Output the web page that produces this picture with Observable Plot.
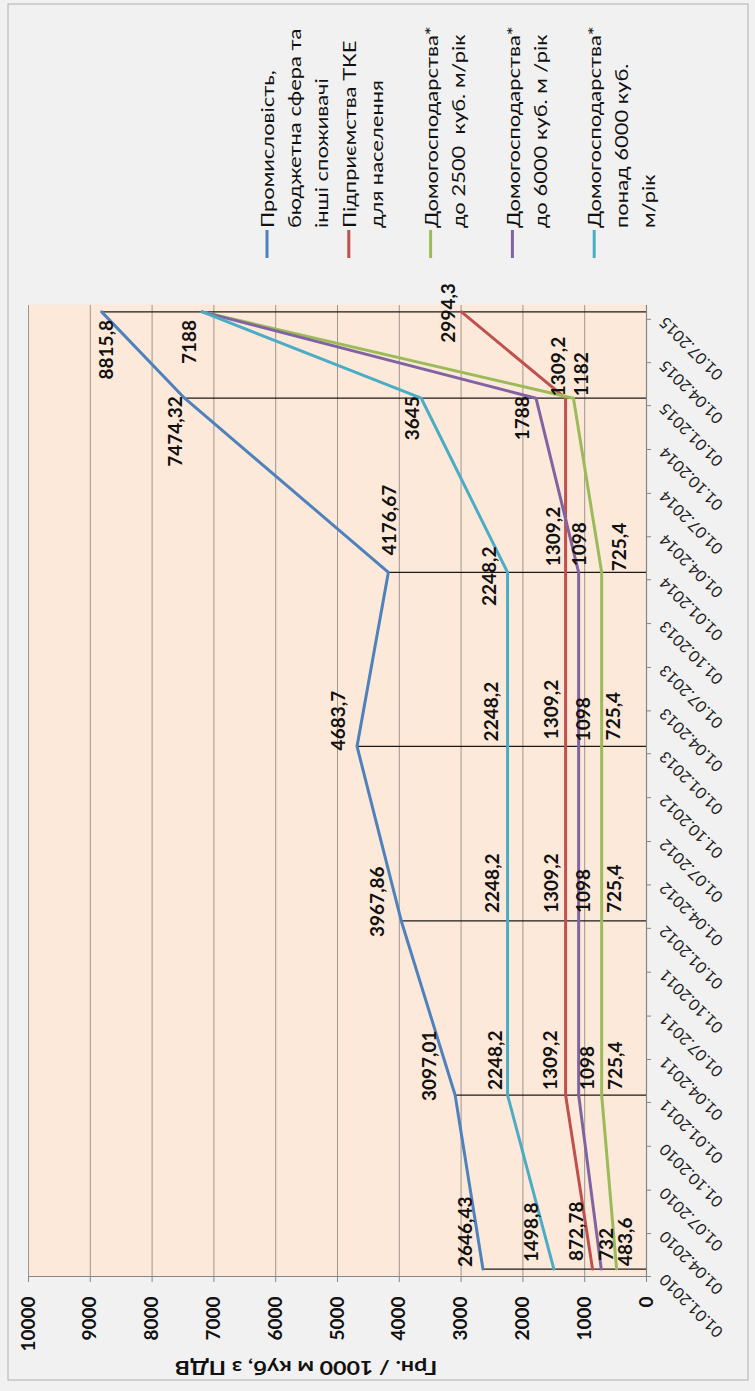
<!DOCTYPE html>
<html>
<head>
<meta charset="utf-8">
<script src="https://cdn.jsdelivr.net/npm/d3@7"></script>
<script src="https://cdn.jsdelivr.net/npm/@observablehq/plot@0.6"></script>
<style>
  html, body { margin: 0; padding: 0; background: #f1f1f1; overflow: hidden; }
  #wrap { position: absolute; left: 0; top: 0; width: 1391px; height: 755px;
          transform-origin: 0 0; transform: translateY(1391px) rotate(-90deg); }
</style>
</head>
<body>
<div id="wrap"></div>
<script>
// ---------- DATA ----------
const pointDates = ["2010-01-01", "2011-01-01", "2012-01-01", "2013-01-01", "2014-01-01", "2015-01-01", "2015-07-01"];
const seriesNames = [
  "Промисловість, бюджетна сфера та інші споживачі",
  "Підприємства ТКЕ для населення",
  "Домогосподарства* до 2500  куб. м/рік",
  "Домогосподарства* до 6000 куб. м /рік",
  "Домогосподарства* понад 6000 куб. м/рік"
];
const industry = [2646.43, 3097.01, 3967.86, 4683.7, 4176.67, 7474.32, 8815.8];
const tke      = [872.78, 1309.2, 1309.2, 1309.2, 1309.2, 1309.2, 2994.3];
const hh2500   = [483.6, 725.4, 725.4, 725.4, 725.4, 1182, 7188];
const hh6000   = [732, 1098, 1098, 1098, 1098, 1788, 7188];
const hhOver   = [1498.8, 2248.2, 2248.2, 2248.2, 2248.2, 3645, 7188];
const valueTicks = [0, 1000, 2000, 3000, 4000, 5000, 6000, 7000, 8000, 9000, 10000];
const dateTicks = ["01.01.2010", "01.04.2010", "01.07.2010", "01.10.2010", "01.01.2011", "01.04.2011", "01.07.2011",
  "01.10.2011", "01.01.2012", "01.04.2012", "01.07.2012", "01.10.2012", "01.01.2013", "01.04.2013", "01.07.2013",
  "01.10.2013", "01.01.2014", "01.04.2014", "01.07.2014", "01.10.2014", "01.01.2015", "01.04.2015", "01.07.2015"];
const axisTitle = "Грн. / 1000 м куб, з ПДВ";
const legendLines = [
  ["Промисловість,", "бюджетна сфера та", "інші споживачі"],
  ["Підприємства ТКЕ", "для населення"],
  ["Домогосподарства*", "до 2500  куб. м/рік"],
  ["Домогосподарства*", "до 6000 куб. м /рік"],
  ["Домогосподарства*", "понад 6000 куб.", "м/рік"]
];

// ---------- STYLE / LAYOUT ----------
const seriesColors = ["#4f81bd", "#c0504d", "#9bbb59", "#8064a2", "#4bacc6"];
// label nudges [dx, dy, anchor] per series and point (null = no label)
const labelLayout = [
  [[2, -17, "start"], [-6, -25, "start"], [-16, -23, "start"], [-4, -18, "start"], [17, 2, "start"], [2, -9, "end"], [-8, 5, "end"]],
  [[8, -16, "start"], [5, -15, "start"], [8, -14, "start"], [7, -14, "start"], [6, -12, "start"], [2, -7, "start"], [-1, -13, "middle"]],
  [[3, 9, "start"], [5, 14, "start"], [8, 13, "start"], [6, 12, "start"], [1, 18, "start"], [2, 8, "start"], null],
  [[8, 6, "start"], [5, 9, "start"], [8, 5, "start"], [5, 5, "start"], [6, 1, "start"], [2, -13, "end"], null],
  [[7, -22, "start"], [5, -12, "start"], [8, -15, "start"], [5, -16, "start"], [-4, -18, "middle"], [2, -8, "end"], [-8, -12, "end"]]
];
const FONT = "Lato, 'Open Sans', sans-serif";
const STRETCH = 1.22;

// ---------- BUILD ----------
const seriesValues = [industry, tke, hh2500, hh6000, hhOver];
const parseDay = d3.utcParse("%Y-%m-%d");
const parseTick = d3.utcParse("%d.%m.%Y");
const dateObjs = pointDates.map(parseDay);
const tickDates = dateTicks.map(parseTick);
// Excel date axis (base unit = month, between tick marks): points sit mid-month
const slot = d => { const m = d3.utcMonth.floor(d); return new Date((+m + +d3.utcMonth.offset(m, 1)) / 2); };
const rows = seriesValues.flatMap((vals, si) => vals.map((v, i) => ({series: seriesNames[si], date: dateObjs[i], value: v})));
const drops = dateObjs.map((d, i) => ({date: d, top: d3.max(seriesValues, vals => vals[i])}));
const xDomain = [tickDates[0], d3.utcMonth.offset(tickDates[tickDates.length - 1], 1)];
const fmt = v => String(v).replace(".", ",");

const labelMarks = [];
seriesValues.forEach((vals, si) => vals.forEach((v, i) => {
  const L = labelLayout[si][i];
  if (!L) return;
  labelMarks.push(Plot.text([{date: dateObjs[i], value: v}], {
    x: d => slot(d.date), y: "value", text: d => fmt(d.value),
    dx: L[0], dy: L[1], textAnchor: L[2], lineAnchor: "middle",
    fontSize: 19, fontWeight: "bold", fill: "#111", fontFamily: FONT
  }));
}));

const chart = Plot.plot({
  width: 1391, height: 755,
  marginLeft: 114, marginRight: 305, marginTop: 28, marginBottom: 109,
  style: {background: "#f1f1f1", maxWidth: "none", fontFamily: FONT, color: "#111"},
  x: {type: "utc", domain: xDomain, axis: null},
  y: {domain: [0, 10000], axis: null},
  color: {domain: seriesNames, range: seriesColors},
  marks: [
    Plot.frame({fill: "#fde9d9", stroke: "none"}),
    Plot.gridY(valueTicks.filter(v => v > 0), {stroke: "#9c9590", strokeOpacity: 1, strokeWidth: 1}),
    Plot.ruleY([0], {stroke: "#868686", strokeWidth: 1.2}),
    Plot.ruleX([xDomain[0]], {stroke: "#868686", strokeWidth: 1.2}),
    Plot.axisY(valueTicks, {tickSize: 5, tickPadding: 15, fontSize: 19, fontWeight: "bold",
      tickFormat: d => String(d), stroke: "#868686", fill: "#111", label: null, fontFamily: FONT}),
    Plot.axisX(tickDates, {tickSize: 5, tickPadding: 11, tickRotate: -45, fontSize: 16,
      tickFormat: d3.utcFormat("%d.%m.%Y"), stroke: "#868686", fill: "#222", label: null, fontFamily: FONT}),
    Plot.ruleX(drops, {x: d => slot(d.date), y1: 0, y2: "top", stroke: "#1a1a1a", strokeWidth: 1.2}),
    Plot.line(rows, {x: d => slot(d.date), y: "value", z: "series", stroke: "series", strokeWidth: 3}),
    ...labelMarks
  ]
});

const svg = d3.select(chart);
// chart area border
svg.insert("rect", ":first-child")
  .attr("x", 11).attr("y", 8).attr("width", 1376).attr("height", 740)
  .attr("fill", "#f1f1f1").attr("stroke", "#b9b9b9").attr("stroke-width", 1.2);

// axis title
svg.append("text")
  .attr("transform", `translate(23,306) rotate(-90) scale(${STRETCH},1)`)
  .attr("text-anchor", "middle").attr("dominant-baseline", "central")
  .attr("font-family", FONT).attr("font-size", 19).attr("font-weight", "bold").attr("fill", "#111")
  .text(axisTitle);

// legend
const lg = svg.append("g").attr("font-family", FONT).attr("font-size", 18).attr("fill", "#111")
  .attr("text-anchor", "start");
legendLines.forEach((lines, i) => {
  const y0 = 267 + i * 81.8;
  lg.append("line").attr("x1", 1133).attr("x2", 1161).attr("y1", y0).attr("y2", y0)
    .attr("stroke", seriesColors[i]).attr("stroke-width", 3);
  lines.forEach((t, j) => {
    lg.append("text")
      .attr("transform", `translate(1163,${y0 + j * 27}) scale(${STRETCH},1)`)
      .attr("text-anchor", "start").attr("dominant-baseline", "central").text(t);
  });
});

document.getElementById("wrap").appendChild(chart);
</script>
</body>
</html>
